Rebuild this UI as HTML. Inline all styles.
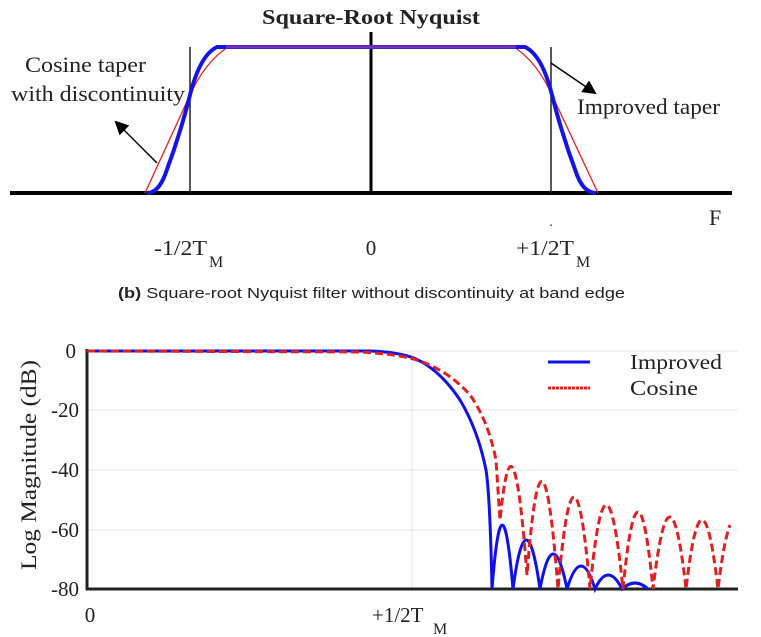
<!DOCTYPE html>
<html><head><meta charset="utf-8"><style>
html,body{margin:0;padding:0;background:#fff}
svg{display:block}
text{font-family:"Liberation Serif",serif;fill:#222}
</style></head><body>
<svg width="761" height="637" viewBox="0 0 761 637" xmlns="http://www.w3.org/2000/svg">
<defs><marker id="ah" markerWidth="14" markerHeight="14" refX="12" refY="7" orient="auto" markerUnits="userSpaceOnUse"><path d="M0,0 L14,7 L0,14 z" fill="#000"/></marker></defs>
<!-- TOP -->
<text x="262" y="24" textLength="218" lengthAdjust="spacingAndGlyphs" font-size="21" font-weight="bold" fill="#111">Square-Root Nyquist</text>
<line x1="10" y1="193" x2="732" y2="193" stroke="#000" stroke-width="4"/>
<line x1="371" y1="32" x2="371" y2="193" stroke="#000" stroke-width="3"/>
<line x1="190" y1="47" x2="190" y2="193" stroke="#222" stroke-width="1.5"/>
<line x1="551" y1="47" x2="551" y2="193" stroke="#222" stroke-width="1.5"/>
<path d="M145,193 L190,95 Q205,62 228,47 L514,47 Q537,62 552,95 L598,193" fill="none" stroke="#e02020" stroke-width="1.3"/>
<path d="M147,193 Q158,193 165,175 Q180,135 190,95 Q200,55 217,47 L525,47 Q542,55 552,95 Q562,135 577,175 Q584,193 596,193" fill="none" stroke="#1414e6" stroke-width="4"/>
<line x1="226" y1="47" x2="516" y2="47" stroke="#7a2fb8" stroke-width="3"/>
<line x1="157" y1="163" x2="116" y2="122" stroke="#000" stroke-width="1.5" marker-end="url(#ah)"/>
<line x1="551" y1="63" x2="595" y2="93" stroke="#000" stroke-width="1.5" marker-end="url(#ah)"/>
<text x="25" y="72" textLength="121" lengthAdjust="spacingAndGlyphs" font-size="22">Cosine taper</text>
<text x="11" y="101" textLength="174" lengthAdjust="spacingAndGlyphs" font-size="22">with discontinuity</text>
<text x="577" y="114" textLength="143" lengthAdjust="spacingAndGlyphs" font-size="22">Improved taper</text>
<text x="709" y="225" font-size="22">F</text>
<text x="551" y="226" font-size="14" text-anchor="middle">.</text>
<text x="154" y="255" font-size="21" textLength="53" lengthAdjust="spacingAndGlyphs">-1/2T</text><text x="209" y="267" font-size="16">M</text>
<text x="371" y="255" font-size="21" text-anchor="middle">0</text>
<text x="516" y="255" font-size="21" textLength="58" lengthAdjust="spacingAndGlyphs">+1/2T</text><text x="576" y="267" font-size="16">M</text>
<text x="118" y="298" textLength="507" lengthAdjust="spacingAndGlyphs" font-size="15" style="font-family:'Liberation Sans',sans-serif" fill="#333"><tspan font-weight="bold">(b)</tspan> Square-root Nyquist filter without discontinuity at band edge</text>
<!-- BOTTOM -->
<g stroke="#e4e4e4" stroke-width="1">
<line x1="87" y1="351" x2="738" y2="351"/><line x1="87" y1="410" x2="738" y2="410"/><line x1="87" y1="470" x2="738" y2="470"/><line x1="87" y1="530" x2="738" y2="530"/>
<line x1="412" y1="351" x2="412" y2="589"/>
</g>
<line x1="87" y1="349" x2="87" y2="590" stroke="#222" stroke-width="3"/>
<line x1="86" y1="589" x2="738" y2="589" stroke="#222" stroke-width="3"/>
<g font-size="21" text-anchor="end"><text x="76" y="358">0</text><text x="79" y="417">-20</text><text x="79" y="477">-40</text><text x="79" y="537">-60</text><text x="79" y="596">-80</text></g>
<text transform="translate(36,465) rotate(-90)" text-anchor="middle" font-size="22" textLength="210" lengthAdjust="spacingAndGlyphs">Log Magnitude (dB)</text>
<text x="90" y="622" font-size="21" text-anchor="middle">0</text>
<text x="372" y="622" font-size="21">+1/2T</text><text x="433" y="634" font-size="16">M</text>
<path d="M87,351 L370,351 Q400,352 416,359 Q440,370 460,400 Q478,430 486,470 Q490,495 492,589 Q502,461 513,589 Q526,491 540,589 Q553,519 567,589 Q581,543 595,589 Q608,561 622,589 Q635,577 648,589" fill="none" stroke="#1010e8" stroke-width="3"/>
<path d="M87,351 L360,352 Q400,354 420,361 Q450,372 470,395 Q488,420 496,460 L500,520 Q513,390 527,575 Q542,381 558,589 Q574,405 590,589 Q606,421 623,589 Q638,435 653,589 Q670,445 686,589 Q702,451 718,589 Q724,540 730,525" fill="none" stroke="#e02020" stroke-width="3" stroke-dasharray="8,4"/>
<line x1="548" y1="362" x2="590" y2="362" stroke="#1010e8" stroke-width="3"/>
<line x1="548" y1="388" x2="590" y2="388" stroke="#e02020" stroke-width="3" stroke-dasharray="3,1"/>
<text x="630" y="369" font-size="21" textLength="92" lengthAdjust="spacingAndGlyphs">Improved</text>
<text x="630" y="395" font-size="21" textLength="68" lengthAdjust="spacingAndGlyphs">Cosine</text>
</svg>
</body></html>
